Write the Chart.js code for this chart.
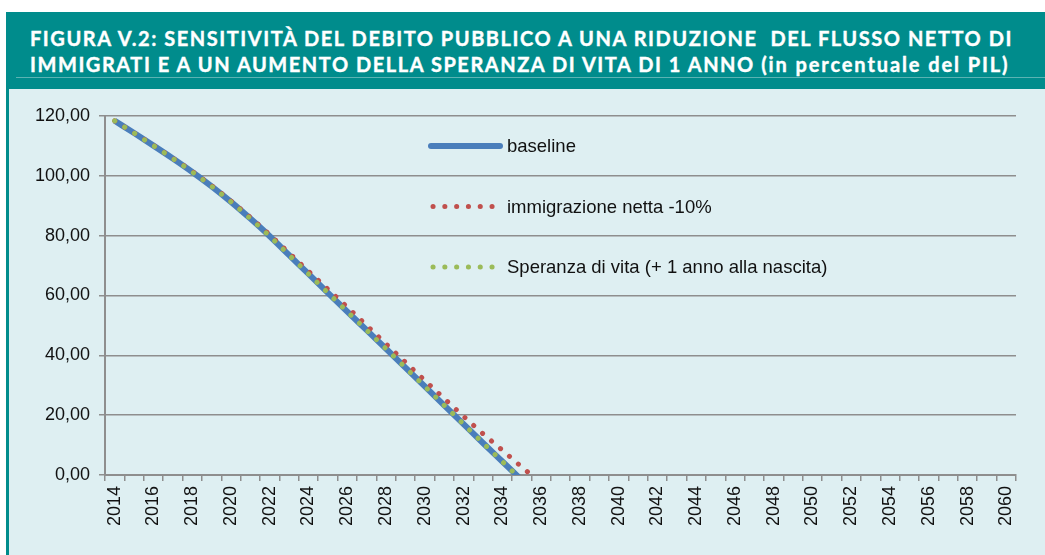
<!DOCTYPE html>
<html>
<head>
<meta charset="utf-8">
<script src="https://cdn.jsdelivr.net/npm/chart.js@4.4.0/dist/chart.umd.min.js"></script>
<style>
  html, body { margin: 0; padding: 0; background: #fff; }
  body { width: 1045px; height: 555px; position: relative; overflow: hidden; }
  #banner {
    position: absolute; left: 6px; top: 12px; width: 1039px; height: 77px;
    background: #008c8c;
  }
  #banner .rule {
    position: absolute; left: 10px; right: 0; top: 65px; height: 1px; background: #5cb3b3;
  }
  #title {
    position: absolute; left: 24px; top: 13px; color: #fff;
    font-family: Lato, "DejaVu Sans", sans-serif; font-weight: bold;
    font-size: 20px; line-height: 26px; white-space: nowrap; letter-spacing: 1.55px;
    -webkit-text-stroke: 0.4px #fff;
  }
  #title .lc { letter-spacing: 1.9px; }
  #panel {
    position: absolute; left: 6px; top: 89px; width: 1039px; height: 466px;
    background: #deeff2; border-left: 3px solid #008c8c; box-sizing: border-box;
  }
  #chart { position: absolute; left: 8px; top: 89px; }
</style>
</head>
<body>
<div id="banner">
  <div id="title">FIGURA V.2: SENSITIVITÀ DEL DEBITO PUBBLICO A UNA RIDUZIONE&nbsp; DEL FLUSSO NETTO DI<br>IMMIGRATI E A UN AUMENTO DELLA SPERANZA DI VITA DI 1 ANNO <span class="lc">(in percentuale del PIL)</span></div>
  <div class="rule"></div>
</div>
<div id="panel"></div>
<canvas id="chart" width="1037" height="466"></canvas>
<script>
  // anni (categorie)
  var years = ['2014', '2015', '2016', '2017', '2018', '2019', '2020', '2021', '2022', '2023',
               '2024', '2025', '2026', '2027', '2028', '2029', '2030', '2031', '2032', '2033',
               '2034', '2035', '2036', '2037', '2038', '2039', '2040', '2041', '2042', '2043',
               '2044', '2045', '2046', '2047', '2048', '2049', '2050', '2051', '2052', '2053',
               '2054', '2055', '2056', '2057', '2058', '2059', '2060'];

  // debito pubblico, % del PIL
  var baseline = [118.4, 114.3, 110.1, 105.8, 101.3, 96.5, 91.3, 85.7, 79.8, 73.5,
                  67.2, 60.9, 54.6, 48.4, 42.2, 35.9, 29.6, 23.3, 17.0, 10.7,
                  4.5, -1.7];
  var immigrazione = [118.4, 114.3, 110.2, 105.9, 101.5, 96.7, 91.6, 86.1, 80.3, 74.2,
                      68.1, 62.1, 56.1, 50.0, 43.8, 37.7, 31.6, 25.6, 19.6, 13.8,
                      8.3, 2.7, -2.7];
  var speranza = [118.4, 114.3, 110.1, 105.8, 101.3, 96.5, 91.3, 85.7, 79.8, 73.5,
                  67.2, 60.9, 54.6, 48.4, 42.2, 35.9, 29.6, 23.3, 17.0, 10.7,
                  4.5, -1.7];

  var seriesNames = ['baseline', 'immigrazione netta -10%', 'Speranza di vita (+ 1 anno alla nascita)'];

  var gridColor = '#8e8e8e';
  var dotDash = [0.1, 11.7];
  var labelFont = '"Liberation Sans", Arial, sans-serif';

  // legenda disegnata dentro l'area del grafico
  var innerLegend = {
    id: 'innerLegend',
    afterDraw: function (chart) {
      var ctx = chart.ctx;
      var x0 = 423, y0 = 57, step = 60.5;
      ctx.save();
      chart.data.datasets.forEach(function (ds, i) {
        var y = y0 + i * step;
        ctx.beginPath();
        ctx.strokeStyle = ds.borderColor;
        ctx.lineWidth = ds.borderWidth;
        ctx.lineCap = 'round';
        ctx.setLineDash(ds.borderDash || []);
        if (ds.borderDash) {
          ctx.moveTo(x0 + 2, y);
          ctx.lineTo(x0 + 64, y);
        } else {
          ctx.moveTo(x0, y);
          ctx.lineTo(x0 + 69, y);
        }
        ctx.stroke();
        ctx.setLineDash([]);
        ctx.fillStyle = '#111';
        ctx.font = '18.5px ' + labelFont;
        ctx.textBaseline = 'middle';
        ctx.fillText(ds.label, x0 + 76, y + 1);
      });
      ctx.restore();
    }
  };

  var lineClip = {left: 5, top: 5, right: 5, bottom: 0};

  new Chart(document.getElementById('chart'), {
    type: 'line',
    data: {
      labels: years,
      datasets: [{
        label: seriesNames[0],
        data: baseline,
        borderColor: '#4a7ebb',
        borderWidth: 6,
        pointRadius: 0,
        cubicInterpolationMode: 'monotone',
        order: 3,
        clip: lineClip,
      }, {
        label: seriesNames[1],
        data: immigrazione,
        borderColor: '#c0504d',
        borderWidth: 5,
        borderDash: dotDash,
        borderCapStyle: 'round',
        pointRadius: 0,
        cubicInterpolationMode: 'monotone',
        order: 2,
        clip: lineClip,
      }, {
        label: seriesNames[2],
        data: speranza,
        borderColor: '#9bbb59',
        borderWidth: 5,
        borderDash: dotDash,
        borderCapStyle: 'round',
        pointRadius: 0,
        cubicInterpolationMode: 'monotone',
        order: 1,
        clip: lineClip,
      }],
    },
    options: {
      responsive: false,
      animation: false,
      layout: { padding: { left: 0, right: 29, top: 27, bottom: 0 } },
      plugins: {
        legend: { display: false },
        tooltip: { enabled: false },
      },
      scales: {
        x: {
          offset: true,
          grid: {
            offset: true,
            drawOnChartArea: false,
            color: gridColor,
            lineWidth: 1.5,
            tickLength: 6,
          },
          border: { color: gridColor, width: 2 },
          ticks: {
            autoSkip: false,
            minRotation: 90,
            maxRotation: 90,
            padding: 5,
            color: '#111',
            font: { family: labelFont, size: 18 },
            callback: function (value, index) {
              return index % 2 === 0 ? this.getLabelForValue(value) : '';
            },
          },
          afterFit: function (scale) { scale.height = 80; },
        },
        y: {
          min: 0,
          max: 120,
          grid: {
            color: gridColor,
            lineWidth: 1.5,
            tickLength: 6,
          },
          border: { color: gridColor, width: 2 },
          ticks: {
            stepSize: 20,
            padding: 9,
            color: '#111',
            font: { family: labelFont, size: 18 },
            callback: function (value) { return value.toFixed(2).replace('.', ','); },
          },
          afterFit: function (scale) { scale.width = 97; },
        },
      },
    },
    plugins: [innerLegend],
  });
</script>
</body>
</html>
